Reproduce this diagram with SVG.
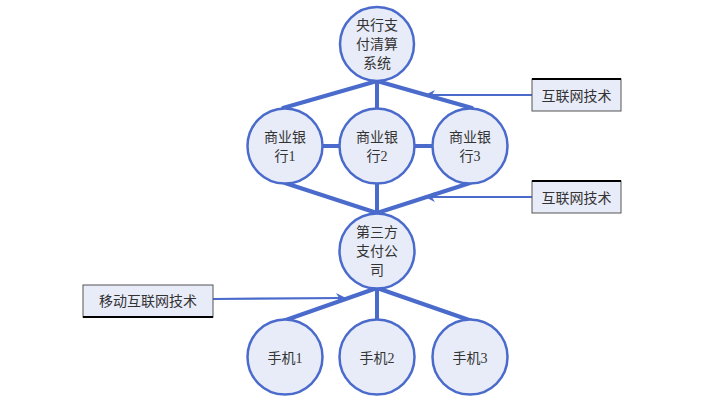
<svg xmlns="http://www.w3.org/2000/svg" width="712" height="399" viewBox="0 0 712 399">
<defs>
<style>
.n circle{fill:#e8ecf8;stroke:#4a6bcc;stroke-width:2.5}
text{font-family:"Liberation Serif","Noto Sans CJK SC",serif;font-size:14px;fill:#333;text-anchor:middle}
.c line{stroke:#4a6bcc;stroke-width:4;stroke-linecap:round}
.a line{stroke:#4a6bcc;stroke-width:2.2}
.b rect{fill:#e8ebf8;stroke:#555;stroke-width:1}
.b line{stroke:#000;stroke-width:2}
</style>
<marker id="ah" viewBox="0 0 10 10" refX="8" refY="5" markerWidth="5.5" markerHeight="4.5" orient="auto" markerUnits="strokeWidth">
<path d="M10,5 L0,0 L3,5 L0,10 Z" fill="#4a6bcc"/>
</marker>
</defs>
<rect width="712" height="399" fill="#fff"/>
<g id="connectors">
<g class="c">
<line x1="377" y1="81" x2="283" y2="108"/>
<line x1="377" y1="81" x2="377" y2="108"/>
<line x1="377" y1="81" x2="472" y2="108"/>
<line x1="323" y1="146" x2="340" y2="146"/>
<line x1="414" y1="146" x2="433" y2="146"/>
<line x1="285" y1="183" x2="377" y2="213"/>
<line x1="377" y1="183" x2="377" y2="213"/>
<line x1="470" y1="183" x2="377" y2="213"/>
<line x1="377" y1="288" x2="283" y2="321"/>
<line x1="377" y1="288" x2="377" y2="321"/>
<line x1="377" y1="288" x2="472" y2="321"/>
</g>
<g class="a">
<line x1="532" y1="95" x2="427" y2="95" marker-end="url(#ah)"/>
<line x1="532" y1="197" x2="427" y2="197" marker-end="url(#ah)"/>
<line x1="213" y1="299" x2="344" y2="298" marker-end="url(#ah)"/>
</g>
</g>
<g id="central" class="n"><circle cx="377" cy="44" r="37"/><text x="377" y="30">央行支</text><text x="377" y="49">付清算</text><text x="377" y="68">系统</text></g>
<g id="bank1" class="n"><circle cx="285" cy="146" r="37.5"/><text x="285" y="142">商业银</text><text x="285" y="161">行1</text></g>
<g id="bank2" class="n"><circle cx="377" cy="146" r="37.5"/><text x="377" y="142">商业银</text><text x="377" y="161">行2</text></g>
<g id="bank3" class="n"><circle cx="470" cy="146" r="37.5"/><text x="470" y="142">商业银</text><text x="470" y="161">行3</text></g>
<g id="thirdparty" class="n"><circle cx="377" cy="251" r="37.5"/><text x="377" y="237">第三方</text><text x="377" y="256">支付公</text><text x="377" y="275">司</text></g>
<g id="phone1" class="n"><circle cx="285" cy="357" r="37.5"/><text x="285" y="363">手机1</text></g>
<g id="phone2" class="n"><circle cx="377" cy="357" r="37.5"/><text x="377" y="363">手机2</text></g>
<g id="phone3" class="n"><circle cx="470" cy="357" r="37.5"/><text x="470" y="363">手机3</text></g>
<g id="internet1" class="b"><rect x="532" y="79" width="89" height="32"/><line x1="532" y1="79" x2="621" y2="79"/><text x="576.5" y="101">互联网技术</text></g>
<g id="internet2" class="b"><rect x="532" y="181" width="89" height="32"/><line x1="532" y1="181" x2="621" y2="181"/><text x="576.5" y="203">互联网技术</text></g>
<g id="mobile" class="b"><rect x="83" y="285" width="130" height="32"/><line x1="83" y1="317" x2="213" y2="317"/><text x="148" y="306">移动互联网技术</text></g>
</svg>
